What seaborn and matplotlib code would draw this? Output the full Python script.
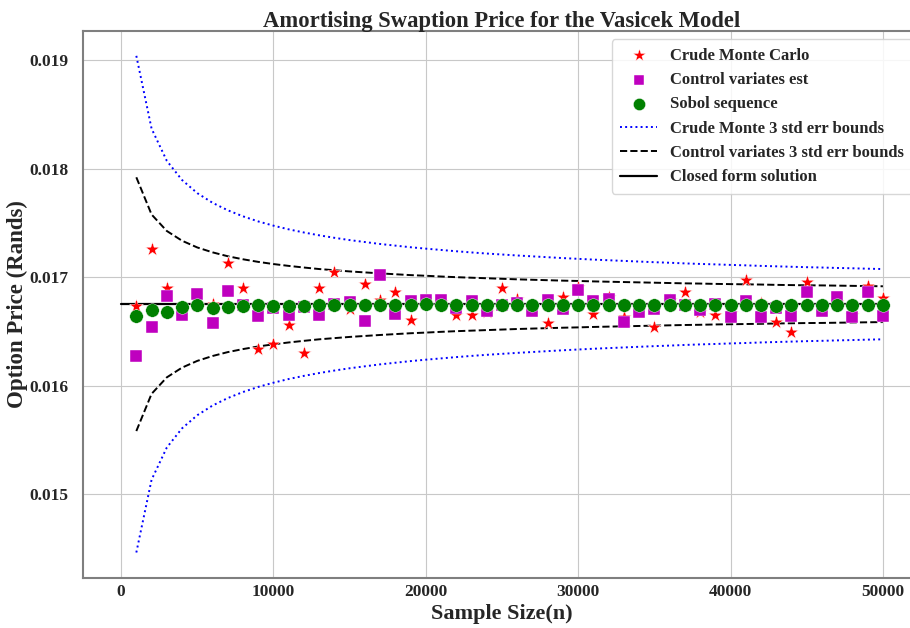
import numpy as np
import pandas as pd
import matplotlib
matplotlib.use("Agg")
import matplotlib.pyplot as plt
import seaborn as sns

# ---- data ----
sample_size = list(range(1000, 50001, 1000))

crude_mc = [0.016736, 0.017261, 0.016899, 0.016720, 0.016740, 0.016750, 0.017135, 0.016904, 0.016340, 0.016382,
            0.016560, 0.016300, 0.016904, 0.017050, 0.016702, 0.016935, 0.016790, 0.016860, 0.016606, 0.016760,
            0.016770, 0.016655, 0.016655, 0.016680, 0.016899, 0.016795, 0.016730, 0.016576, 0.016813, 0.016905,
            0.016665, 0.016820, 0.016637, 0.016720, 0.016537, 0.016790, 0.016860, 0.016677, 0.016652, 0.016668,
            0.016975, 0.016760, 0.016588, 0.016490, 0.016960, 0.016730, 0.016770, 0.016650, 0.016920, 0.016806]

control_var = [0.016277, 0.016545, 0.016828, 0.016652, 0.016843, 0.016576, 0.016874, 0.016740, 0.016643, 0.016712,
               0.016652, 0.016726, 0.016652, 0.016755, 0.016775, 0.016598, 0.017021, 0.016660, 0.016784, 0.016785,
               0.016790, 0.016716, 0.016782, 0.016691, 0.016740, 0.016760, 0.016691, 0.016786, 0.016711, 0.016883,
               0.016782, 0.016803, 0.016591, 0.016676, 0.016705, 0.016794, 0.016745, 0.016694, 0.016755, 0.016630,
               0.016779, 0.016637, 0.016714, 0.016644, 0.016867, 0.016686, 0.016821, 0.016630, 0.016860, 0.016645]

sobol = [0.016643, 0.016696, 0.016683, 0.016726, 0.016742, 0.016720, 0.016726, 0.016738, 0.016745, 0.016735,
         0.016730, 0.016730, 0.016742, 0.016745, 0.016742, 0.016745, 0.016748, 0.016748, 0.016748, 0.016750,
         0.016748, 0.016742, 0.016748, 0.016745, 0.016745, 0.016745, 0.016742, 0.016745, 0.016745, 0.016745,
         0.016745, 0.016745, 0.016742, 0.016745, 0.016745, 0.016745, 0.016745, 0.016742, 0.016745, 0.016742,
         0.016745, 0.016745, 0.016735, 0.016745, 0.016745, 0.016742, 0.016745, 0.016745, 0.016745, 0.016745]

closed_form_n = [0, 50000]
closed_form_price = [0.016751, 0.016751]
closed_form = 0.016751

crude_3se = [0.002290, 0.001619, 0.001322, 0.001145, 0.001024, 0.000935, 0.000866, 0.000810, 0.000763, 0.000724,
             0.000690, 0.000661, 0.000635, 0.000612, 0.000591, 0.000573, 0.000555, 0.000540, 0.000525, 0.000512,
             0.000500, 0.000488, 0.000477, 0.000467, 0.000458, 0.000449, 0.000441, 0.000433, 0.000425, 0.000418,
             0.000411, 0.000405, 0.000399, 0.000393, 0.000387, 0.000382, 0.000376, 0.000371, 0.000367, 0.000362,
             0.000358, 0.000353, 0.000349, 0.000345, 0.000341, 0.000338, 0.000334, 0.000331, 0.000327, 0.000324]

cv_3se = [0.001170, 0.000827, 0.000675, 0.000585, 0.000523, 0.000478, 0.000442, 0.000414, 0.000390, 0.000370,
          0.000353, 0.000338, 0.000324, 0.000313, 0.000302, 0.000293, 0.000284, 0.000276, 0.000268, 0.000262,
          0.000255, 0.000249, 0.000244, 0.000239, 0.000234, 0.000229, 0.000225, 0.000221, 0.000217, 0.000214,
          0.000210, 0.000207, 0.000204, 0.000201, 0.000198, 0.000195, 0.000192, 0.000190, 0.000187, 0.000185,
          0.000183, 0.000181, 0.000178, 0.000176, 0.000174, 0.000173, 0.000171, 0.000169, 0.000167, 0.000165]

df = pd.DataFrame({
    "n": sample_size,
    "crude": crude_mc,
    "cv": control_var,
    "sobol": sobol,
    "crude_up": [closed_form + e for e in crude_3se],
    "crude_lo": [closed_form - e for e in crude_3se],
    "cv_up": [closed_form + e for e in cv_3se],
    "cv_lo": [closed_form - e for e in cv_3se],
})
df_closed = pd.DataFrame({"n": closed_form_n, "price": closed_form_price})

# ---- style ----
sns.set_style("whitegrid", {"axes.edgecolor": "#7f7f7f", "grid.color": "#c8c8c8"})
plt.rcParams["font.family"] = ["Liberation Serif", "DejaVu Serif"]
plt.rcParams["font.weight"] = "bold"

fig = plt.figure(figsize=(9.10, 6.28), dpi=100)
ax = fig.add_axes([83 / 910, 1 - 578 / 628, (921 - 83) / 910, (578 - 31) / 628])

sns.scatterplot(data=df, x="n", y="crude", marker="*", color="red", s=110,
                edgecolor="white", linewidth=0.3, label="Crude Monte Carlo", ax=ax, zorder=3)
sns.scatterplot(data=df, x="n", y="cv", marker="s", color="m", s=70,
                edgecolor="white", linewidth=0.3, label="Control variates est", ax=ax, zorder=4)
sns.scatterplot(data=df, x="n", y="sobol", marker="o", color="green", s=95,
                edgecolor="white", linewidth=0.3, label="Sobol sequence", ax=ax, zorder=5)

sns.lineplot(data=df, x="n", y="crude_up", color="blue", linestyle=":", linewidth=1.4,
             label="Crude Monte 3 std err bounds", ax=ax, zorder=2)
sns.lineplot(data=df, x="n", y="crude_lo", color="blue", linestyle=":", linewidth=1.4, ax=ax, zorder=2)
sns.lineplot(data=df, x="n", y="cv_up", color="black", linestyle="--", linewidth=1.4,
             label="Control variates 3 std err bounds", ax=ax, zorder=2)
sns.lineplot(data=df, x="n", y="cv_lo", color="black", linestyle="--", linewidth=1.4, ax=ax, zorder=2)
sns.lineplot(data=df_closed, x="n", y="price", color="black", linestyle="-", linewidth=1.6,
             label="Closed form solution", ax=ax, zorder=2)

ax.set_xlim(-2500, 52500)
ax.set_ylim(0.014226, 0.01927)
ax.set_xticks([0, 10000, 20000, 30000, 40000, 50000])
ax.set_yticks([0.015, 0.016, 0.017, 0.018, 0.019])
ax.yaxis.set_major_formatter(matplotlib.ticker.FormatStrFormatter("%.3f"))
ax.tick_params(axis="x", pad=1)
ax.tick_params(axis="y", pad=7)
for lab in ax.get_xticklabels() + ax.get_yticklabels():
    lab.set_fontweight("bold")
    lab.set_fontsize(12.5)

ax.set_title("Amortising Swaption Price for the Vasicek Model", fontsize=16.3, fontweight="bold", pad=3)
ax.set_xlabel("Sample Size(n)", fontsize=16, fontweight="bold", labelpad=3)
ax.set_ylabel("Option Price (Rands)", fontsize=16.5, fontweight="bold", labelpad=1)

for sp in ax.spines.values():
    sp.set_linewidth(1.5)

handles, labels = ax.get_legend_handles_labels()
leg = ax.legend(handles, labels, loc="upper right", bbox_to_anchor=(1.0, 1.0),
                prop={"family": "Liberation Serif", "weight": "bold", "size": 12},
                frameon=True, framealpha=0.85, edgecolor="#d0d0d0", borderpad=0.5,
                labelspacing=0.5, handlelength=2.2, markerscale=0.9)

fig.savefig("out.png", dpi=100)
